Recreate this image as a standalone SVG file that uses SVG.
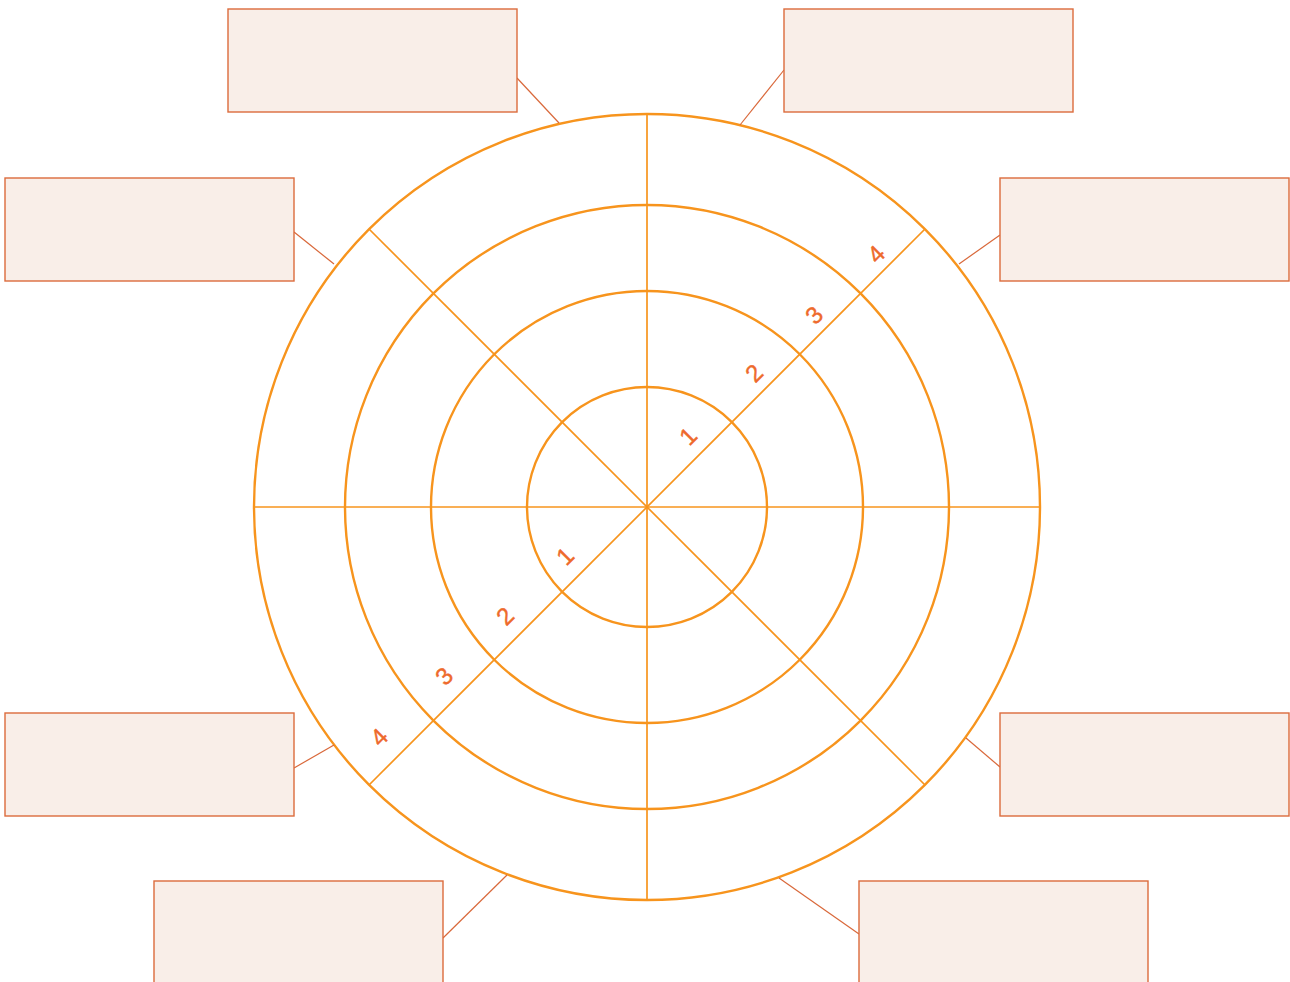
<svg xmlns="http://www.w3.org/2000/svg" width="1290" height="982" viewBox="0 0 1290 982">
<style>
.ring{fill:none;stroke:#F7941D;stroke-width:2.4}
.spoke{stroke:#F7941D;stroke-width:1.7}
.box{fill:#F9EEE8;stroke:#DC6B3C;stroke-width:1.4}
.conn{stroke:#D9683A;stroke-width:1.2;fill:none}
.num{font-family:"Liberation Sans",Arial,sans-serif;font-size:24px;fill:#EE6A2C;stroke:#EE6A2C;stroke-width:0.4;text-anchor:middle;dominant-baseline:central}
</style>
<rect width="1290" height="982" fill="#ffffff"/>
<g id="wheel">
<circle class="ring" cx="647" cy="507" r="393"/>
<circle class="ring" cx="647" cy="507" r="302"/>
<circle class="ring" cx="647" cy="507" r="216"/>
<circle class="ring" cx="647" cy="507" r="120"/>
<line class="spoke" x1="647" y1="114" x2="647" y2="900"/>
<line class="spoke" x1="254" y1="507" x2="1040" y2="507"/>
<line class="spoke" x1="369" y1="229" x2="925" y2="785"/>
<line class="spoke" x1="925" y1="229" x2="369" y2="785"/>
</g>
<g id="scale">
<text class="num" transform="translate(688,436) rotate(-45)">1</text>
<text class="num" transform="translate(754,373) rotate(-45)">2</text>
<text class="num" transform="translate(814,315) rotate(-45)">3</text>
<text class="num" transform="translate(876,254) rotate(-45)">4</text>
<text class="num" transform="translate(565,556) rotate(-45)">1</text>
<text class="num" transform="translate(505,616) rotate(-45)">2</text>
<text class="num" transform="translate(444,676) rotate(-45)">3</text>
<text class="num" transform="translate(379,737) rotate(-45)">4</text>
</g>
<g id="connectors">
<line class="conn" x1="517" y1="78" x2="559" y2="123"/>
<line class="conn" x1="784" y1="70" x2="740" y2="125"/>
<line class="conn" x1="294" y1="232" x2="334" y2="264"/>
<line class="conn" x1="1000" y1="235" x2="959" y2="264"/>
<line class="conn" x1="294" y1="768" x2="334" y2="745"/>
<line class="conn" x1="1000" y1="767" x2="966" y2="738"/>
<line class="conn" x1="443" y1="938" x2="507" y2="875"/>
<line class="conn" x1="859" y1="934" x2="779" y2="878"/>
</g>
<g id="box1"><rect class="box" x="228" y="9" width="289" height="103"/></g>
<g id="box2"><rect class="box" x="784" y="9" width="289" height="103"/></g>
<g id="box3"><rect class="box" x="5" y="178" width="289" height="103"/></g>
<g id="box4"><rect class="box" x="1000" y="178" width="289" height="103"/></g>
<g id="box5"><rect class="box" x="5" y="713" width="289" height="103"/></g>
<g id="box6"><rect class="box" x="1000" y="713" width="289" height="103"/></g>
<g id="box7"><rect class="box" x="154" y="881" width="289" height="103"/></g>
<g id="box8"><rect class="box" x="859" y="881" width="289" height="103"/></g>
</svg>
